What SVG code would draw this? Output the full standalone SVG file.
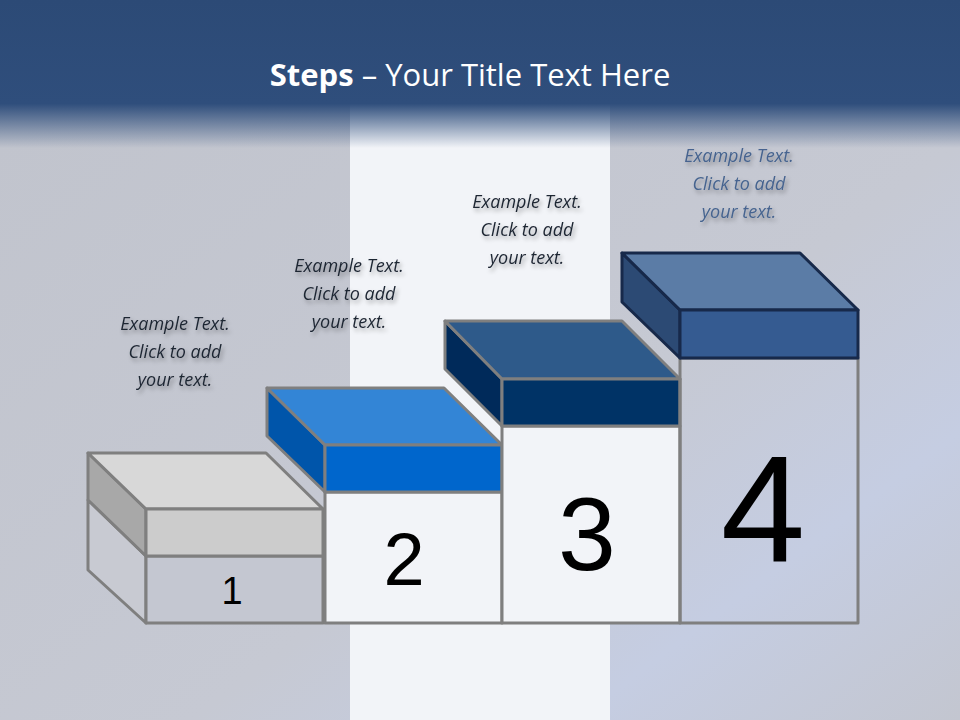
<svg xmlns="http://www.w3.org/2000/svg" width="960" height="720" viewBox="0 0 960 720">
<defs>
<linearGradient id="hdr" x1="0" y1="0" x2="0" y2="1">
<stop offset="0" stop-color="#2c4a76"/><stop offset="0.7" stop-color="#2f4e7c"/><stop offset="1" stop-color="#2f4e7c" stop-opacity="0"/>
</linearGradient>
<linearGradient id="bg" x1="0" y1="0" x2="1" y2="1">
<stop offset="0" stop-color="#c0c3cc"/><stop offset="0.6" stop-color="#c6c9d3"/><stop offset="0.8" stop-color="#c5cde2"/><stop offset="1" stop-color="#c3c6d0"/>
</linearGradient>
<filter id="sh" x="-10%" y="-10%" width="120%" height="130%"><feDropShadow dx="2" dy="3" stdDeviation="2" flood-color="#000" flood-opacity="0.35"/></filter>
<style>
.g{stroke:#7f7f7f;stroke-width:3;stroke-linejoin:round}
.d{stroke:#17294a;stroke-width:3;stroke-linejoin:round}
.t{font-family:"Open Sans","Liberation Sans",sans-serif;font-style:italic;font-size:18px;text-anchor:middle;fill:#1e2633}
.n{font-family:"Liberation Sans",Arial,sans-serif;text-anchor:middle;fill:#000}
</style>
</defs>
<rect width="960" height="720" fill="url(#bg)"/>
<rect x="350" y="100" width="260" height="620" fill="#f2f4f8"/>
<rect width="960" height="148" fill="url(#hdr)"/>
<text x="470" y="86" font-family="'Open Sans','Liberation Sans',sans-serif" font-size="31" fill="#fff" text-anchor="middle"><tspan font-weight="bold">Steps</tspan> – Your Title Text Here</text>

<g id="step1">
<polygon class="g" points="88,500 146,556 146,623 88,570" fill="#c8cad2"/>
<rect class="g" x="146" y="556" width="177" height="67" fill="#c4c7d1"/>
<polygon class="g" points="88,453 146,509 146,556 88,500" fill="#a8a8a8"/>
<polygon class="g" points="88,453 266,453 323,509 146,509" fill="#d8d8d8"/>
<rect class="g" x="146" y="509" width="177" height="47" fill="#cccccc"/>
<text class="n" x="232" y="604" font-size="38">1</text>
<text class="t" filter="url(#sh)" x="175" y="330">Example Text.<tspan x="175" dy="28">Click  to add</tspan><tspan x="175" dy="28">your text.</tspan></text>
</g>
<g id="step2">
<rect class="g" x="325" y="492" width="177" height="131" fill="#f2f4f8"/>
<polygon class="g" points="267,388 325,445 325,492 267,436" fill="#0055aa"/>
<polygon class="g" points="267,388 444,388 502,445 325,445" fill="#3385d6"/>
<rect class="g" x="325" y="445" width="177" height="47" fill="#0066cc"/>
<text class="n" x="404" y="585" font-size="74">2</text>
<text class="t" filter="url(#sh)" x="349" y="272">Example Text.<tspan x="349" dy="28">Click  to add</tspan><tspan x="349" dy="28">your text.</tspan></text>
</g>
<g id="step3">
<rect class="g" x="502" y="426" width="178" height="197" fill="#f2f4f8"/>
<polygon class="g" points="445,321 502,379 502,426 445,369" fill="#002a5a"/>
<polygon class="g" points="445,321 622,321 680,379 502,379" fill="#2e5a8a"/>
<rect class="g" x="502" y="379" width="178" height="47" fill="#003366"/>
<text class="n" x="587" y="570" font-size="104">3</text>
<text class="t" filter="url(#sh)" x="527" y="208">Example Text.<tspan x="527" dy="28">Click  to add</tspan><tspan x="527" dy="28">your text.</tspan></text>
</g>
<g id="step4">
<rect class="g" x="680" y="358" width="178" height="265" fill="none"/>
<polygon class="d" points="622,253 680,310 680,358 622,302" fill="#2c4a74"/>
<polygon class="d" points="622,253 800,253 858,310 680,310" fill="#5b7ca6"/>
<rect class="d" x="680" y="310" width="178" height="48" fill="#355b91"/>
<text class="n" x="763" y="562" font-size="152">4</text>
<text class="t" filter="url(#sh)" x="739" y="162" fill="#46648f" style="fill:#46648f">Example Text.<tspan x="739" dy="28">Click  to add</tspan><tspan x="739" dy="28">your text.</tspan></text>
</g>
</svg>
